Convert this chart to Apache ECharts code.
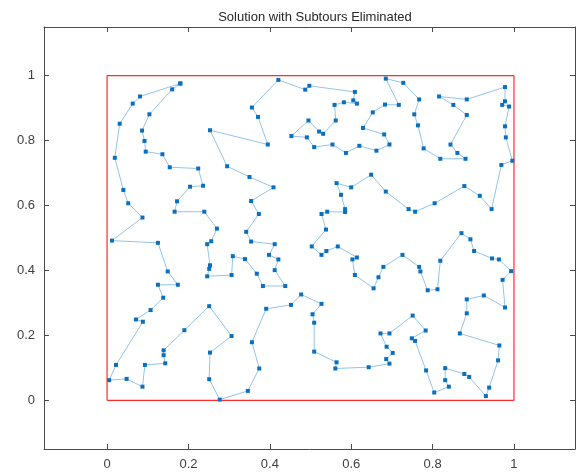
<!DOCTYPE html>
<html lang="en">
<head>
    <meta charset="UTF-8">
    <title>tsp</title>
    <script src="https://cdn.jsdelivr.net/npm/echarts@6/dist/echarts.min.js"></script>
</head>
<body style="margin:0; background:#fff;">
<div id="main" style="width: 580px; height: 474px;"></div>
<script type="text/javascript">
    // tour order, closed back to the first stop
    const tourX = [0.180, 0.160, 0.104, 0.086, 0.092, 0.095, 0.136, 0.154, 0.224, 0.236,
        0.204, 0.172, 0.166, 0.239, 0.270, 0.256, 0.246, 0.253, 0.251, 0.246,
        0.306, 0.309, 0.339, 0.368, 0.383, 0.438, 0.412, 0.421, 0.398, 0.412,
        0.354, 0.342, 0.373, 0.354, 0.409, 0.350, 0.295, 0.253, 0.395, 0.371,
        0.356, 0.421, 0.487, 0.497, 0.609, 0.605, 0.614, 0.582, 0.559, 0.562,
        0.531, 0.521, 0.495, 0.453, 0.491, 0.509, 0.554, 0.587, 0.620, 0.662,
        0.694, 0.681, 0.629, 0.653, 0.683, 0.717, 0.685, 0.728, 0.767, 0.755,
        0.764, 0.778, 0.819, 0.881, 0.861, 0.844, 0.884, 0.851, 0.816, 0.884,
        0.978, 0.978, 0.971, 0.988, 0.978, 0.980, 0.996, 0.969, 0.945, 0.916,
        0.878, 0.805, 0.757, 0.741, 0.685, 0.649, 0.600, 0.564, 0.575, 0.585,
        0.585, 0.541, 0.527, 0.538, 0.503, 0.527, 0.539, 0.567, 0.614, 0.603,
        0.609, 0.655, 0.667, 0.679, 0.726, 0.767, 0.770, 0.788, 0.812, 0.819,
        0.871, 0.893, 0.902, 0.946, 0.963, 0.993, 0.972, 0.978, 0.926, 0.884,
        0.884, 0.867, 0.964, 0.961, 0.939, 0.931, 0.890, 0.878, 0.831, 0.831,
        0.840, 0.804, 0.784, 0.757, 0.749, 0.783, 0.751, 0.694, 0.672, 0.687,
        0.702, 0.686, 0.694, 0.643, 0.561, 0.564, 0.509, 0.509, 0.505, 0.527,
        0.477, 0.452, 0.391, 0.356, 0.374, 0.346, 0.277, 0.251, 0.253, 0.306,
        0.251, 0.190, 0.139, 0.139, 0.143, 0.093, 0.087, 0.048, 0.005, 0.022,
        0.088, 0.071, 0.107, 0.138, 0.125, 0.174, 0.149, 0.125, 0.012, 0.087,
        0.052, 0.040, 0.019, 0.031, 0.063, 0.081, 0.180];
    const tourY = [0.976, 0.958, 0.881, 0.831, 0.799, 0.766, 0.758, 0.718, 0.714, 0.661,
        0.658, 0.613, 0.581, 0.581, 0.529, 0.490, 0.481, 0.416, 0.405, 0.382,
        0.386, 0.444, 0.435, 0.390, 0.352, 0.352, 0.401, 0.434, 0.448, 0.481,
        0.489, 0.519, 0.574, 0.614, 0.656, 0.688, 0.721, 0.832, 0.788, 0.873,
        0.902, 0.987, 0.957, 0.969, 0.950, 0.924, 0.914, 0.918, 0.910, 0.862,
        0.821, 0.828, 0.862, 0.814, 0.810, 0.780, 0.788, 0.762, 0.784, 0.769,
        0.788, 0.819, 0.839, 0.887, 0.911, 0.910, 0.991, 0.978, 0.927, 0.881,
        0.847, 0.776, 0.744, 0.744, 0.762, 0.788, 0.879, 0.910, 0.936, 0.927,
        0.965, 0.921, 0.910, 0.905, 0.844, 0.810, 0.738, 0.725, 0.589, 0.630,
        0.660, 0.607, 0.581, 0.589, 0.643, 0.695, 0.656, 0.669, 0.633, 0.589,
        0.580, 0.581, 0.574, 0.526, 0.474, 0.448, 0.460, 0.474, 0.440, 0.434,
        0.386, 0.345, 0.379, 0.411, 0.448, 0.411, 0.397, 0.339, 0.342, 0.430,
        0.515, 0.496, 0.460, 0.437, 0.434, 0.398, 0.371, 0.286, 0.323, 0.311,
        0.268, 0.206, 0.169, 0.123, 0.039, 0.013, 0.072, 0.081, 0.099, 0.062,
        0.042, 0.024, 0.092, 0.183, 0.191, 0.215, 0.261, 0.206, 0.206, 0.165,
        0.146, 0.127, 0.113, 0.102, 0.098, 0.117, 0.150, 0.239, 0.265, 0.297,
        0.326, 0.294, 0.282, 0.179, 0.098, 0.029, 0.002, 0.065, 0.147, 0.198,
        0.290, 0.216, 0.154, 0.139, 0.114, 0.109, 0.042, 0.066, 0.062, 0.109,
        0.242, 0.249, 0.278, 0.316, 0.356, 0.356, 0.397, 0.485, 0.492, 0.563,
        0.607, 0.648, 0.747, 0.852, 0.914, 0.936, 0.976];
    // unit square boundary
    const boxX = [0, 1, 1, 0, 0];
    const boxY = [0, 0, 1, 1, 0];
    const tickVals = [0, 0.2, 0.4, 0.6, 0.8, 1];

    function zip(xs, ys){
        return xs.map(function (v, i){ return [v, ys[i]]; });
    }

    const axisCol = '#4a4a4a';
    const font = 'Liberation Sans';

    function makeAxis(pos, lo, hi, showLabel){
        return {
            type: 'value',
            position: pos,
            min: lo,
            max: hi,
            splitLine: {show: false},
            axisLine: {show: true, onZero: false, lineStyle: {color: axisCol, width: 1}},
            axisTick: {show: true, inside: true, length: 5, customValues: tickVals,
                lineStyle: {color: axisCol}},
            axisLabel: {show: showLabel, customValues: tickVals, color: '#404040',
                fontSize: 13, fontFamily: font, margin: 9,
                formatter: function (v){ return String(+v.toFixed(1)); }}
        };
    }

    let myChart = echarts.init(document.getElementById('main'));
    const option = {
        animation: false,
        title: {
            text: 'Solution with Subtours Eliminated',
            left: 310,
            top: 6,
            textAlign: 'center',
            textStyle: {fontSize: 13, fontWeight: 'normal', color: '#262626', fontFamily: font}
        },
        grid: {left: 44, right: 5, top: 27, bottom: 25},
        xAxis: [makeAxis('bottom', -0.155, 1.15, true), makeAxis('top', -0.155, 1.15, false)],
        yAxis: [makeAxis('left', -0.15, 1.15, true), makeAxis('right', -0.15, 1.15, false)],
        series: [{
            type: 'line',
            data: zip(boxX, boxY),
            symbol: 'none',
            lineStyle: {color: '#ff2a2a', width: 1.2},
            z: 2
        }, {
            type: 'line',
            data: zip(tourX, tourY),
            symbol: 'rect',
            symbolSize: 4,
            itemStyle: {color: '#0b6fbf'},
            lineStyle: {color: '#93c4e8', width: 1},
            z: 3
        }]
    };
    myChart.setOption(option);
</script>
</body>
</html>
